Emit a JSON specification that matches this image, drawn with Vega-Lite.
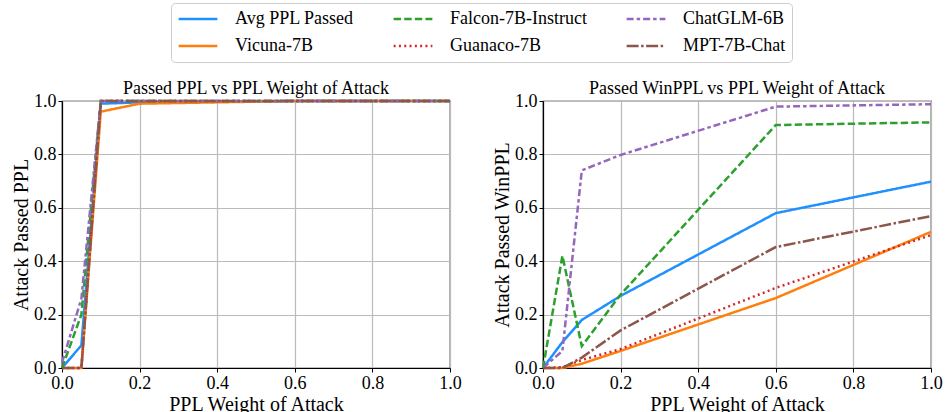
{
  "$schema": "https://vega.github.io/schema/vega-lite/v6.json",
  "padding": {"left": 10, "top": 2, "right": 0, "bottom": 0},
  "datasets": {
    "ppl": [
      {"model": "Avg PPL Passed", "x": 0, "y": 0},
      {"model": "Avg PPL Passed", "x": 0.05, "y": 0.085},
      {"model": "Avg PPL Passed", "x": 0.1, "y": 0.99},
      {"model": "Avg PPL Passed", "x": 0.2, "y": 0.995},
      {"model": "Avg PPL Passed", "x": 0.6, "y": 1.0},
      {"model": "Avg PPL Passed", "x": 1.0, "y": 1.0},
      {"model": "Vicuna-7B", "x": 0, "y": 0},
      {"model": "Vicuna-7B", "x": 0.05, "y": 0},
      {"model": "Vicuna-7B", "x": 0.1, "y": 0.96},
      {"model": "Vicuna-7B", "x": 0.2, "y": 0.99},
      {"model": "Vicuna-7B", "x": 0.6, "y": 1.0},
      {"model": "Vicuna-7B", "x": 1.0, "y": 1.0},
      {"model": "Falcon-7B-Instruct", "x": 0, "y": 0},
      {"model": "Falcon-7B-Instruct", "x": 0.05, "y": 0.2},
      {"model": "Falcon-7B-Instruct", "x": 0.1, "y": 1.0},
      {"model": "Falcon-7B-Instruct", "x": 0.2, "y": 1.0},
      {"model": "Falcon-7B-Instruct", "x": 0.6, "y": 1.0},
      {"model": "Falcon-7B-Instruct", "x": 1.0, "y": 1.0},
      {"model": "Guanaco-7B", "x": 0, "y": 0},
      {"model": "Guanaco-7B", "x": 0.05, "y": 0},
      {"model": "Guanaco-7B", "x": 0.1, "y": 1.0},
      {"model": "Guanaco-7B", "x": 0.2, "y": 1.0},
      {"model": "Guanaco-7B", "x": 0.6, "y": 1.0},
      {"model": "Guanaco-7B", "x": 1.0, "y": 1.0},
      {"model": "ChatGLM-6B", "x": 0, "y": 0.02},
      {"model": "ChatGLM-6B", "x": 0.05, "y": 0.26},
      {"model": "ChatGLM-6B", "x": 0.1, "y": 1.0},
      {"model": "ChatGLM-6B", "x": 0.2, "y": 1.0},
      {"model": "ChatGLM-6B", "x": 0.6, "y": 1.0},
      {"model": "ChatGLM-6B", "x": 1.0, "y": 1.0},
      {"model": "MPT-7B-Chat", "x": 0, "y": 0},
      {"model": "MPT-7B-Chat", "x": 0.05, "y": 0},
      {"model": "MPT-7B-Chat", "x": 0.1, "y": 1.0},
      {"model": "MPT-7B-Chat", "x": 0.2, "y": 1.0},
      {"model": "MPT-7B-Chat", "x": 0.6, "y": 1.0},
      {"model": "MPT-7B-Chat", "x": 1.0, "y": 1.0}
    ],
    "winppl": [
      {"model": "Avg PPL Passed", "x": 0, "y": 0},
      {"model": "Avg PPL Passed", "x": 0.05, "y": 0.097},
      {"model": "Avg PPL Passed", "x": 0.1, "y": 0.18},
      {"model": "Avg PPL Passed", "x": 0.2, "y": 0.27},
      {"model": "Avg PPL Passed", "x": 0.6, "y": 0.58},
      {"model": "Avg PPL Passed", "x": 1.0, "y": 0.698},
      {"model": "Vicuna-7B", "x": 0, "y": 0},
      {"model": "Vicuna-7B", "x": 0.05, "y": 0},
      {"model": "Vicuna-7B", "x": 0.1, "y": 0.016},
      {"model": "Vicuna-7B", "x": 0.2, "y": 0.064},
      {"model": "Vicuna-7B", "x": 0.6, "y": 0.262},
      {"model": "Vicuna-7B", "x": 1.0, "y": 0.51},
      {"model": "Falcon-7B-Instruct", "x": 0, "y": 0},
      {"model": "Falcon-7B-Instruct", "x": 0.05, "y": 0.42},
      {"model": "Falcon-7B-Instruct", "x": 0.1, "y": 0.082},
      {"model": "Falcon-7B-Instruct", "x": 0.2, "y": 0.275},
      {"model": "Falcon-7B-Instruct", "x": 0.6, "y": 0.91},
      {"model": "Falcon-7B-Instruct", "x": 1.0, "y": 0.92},
      {"model": "Guanaco-7B", "x": 0, "y": 0},
      {"model": "Guanaco-7B", "x": 0.05, "y": 0.003},
      {"model": "Guanaco-7B", "x": 0.1, "y": 0.03},
      {"model": "Guanaco-7B", "x": 0.2, "y": 0.071},
      {"model": "Guanaco-7B", "x": 0.6, "y": 0.30},
      {"model": "Guanaco-7B", "x": 1.0, "y": 0.498},
      {"model": "ChatGLM-6B", "x": 0, "y": 0},
      {"model": "ChatGLM-6B", "x": 0.05, "y": 0.064},
      {"model": "ChatGLM-6B", "x": 0.1, "y": 0.74},
      {"model": "ChatGLM-6B", "x": 0.2, "y": 0.798},
      {"model": "ChatGLM-6B", "x": 0.6, "y": 0.979},
      {"model": "ChatGLM-6B", "x": 1.0, "y": 0.988},
      {"model": "MPT-7B-Chat", "x": 0, "y": 0},
      {"model": "MPT-7B-Chat", "x": 0.05, "y": 0},
      {"model": "MPT-7B-Chat", "x": 0.1, "y": 0.039},
      {"model": "MPT-7B-Chat", "x": 0.2, "y": 0.141},
      {"model": "MPT-7B-Chat", "x": 0.6, "y": 0.453},
      {"model": "MPT-7B-Chat", "x": 1.0, "y": 0.569}
    ]
  },
  "config": {
    "font": "Liberation Serif, Times New Roman, DejaVu Serif, serif",
    "view": {"stroke": "black", "strokeWidth": 1.2},
    "axis": {
      "labelFont": "Liberation Serif, Times New Roman, DejaVu Serif, serif",
      "titleFont": "Liberation Serif, Times New Roman, DejaVu Serif, serif",
      "labelFontSize": 18,
      "titleFontSize": 20,
      "titleFontWeight": "normal",
      "labelColor": "black",
      "titleColor": "black",
      "gridColor": "#bbbbbb",
      "gridWidth": 1.2,
      "domainColor": "black",
      "domainWidth": 1.2,
      "tickColor": "black",
      "tickSize": 4,
      "labelPadding": 2,
      "titlePadding": 2,
      "labelFlush": false
    },
    "title": {"font": "Liberation Serif, Times New Roman, DejaVu Serif, serif", "fontSize": 18, "fontWeight": "normal", "offset": -6, "color": "black"},
    "legend": {
      "orient": "none",
      "legendX": 109,
      "legendY": -98,
      "columns": 3,
      "labelFont": "Liberation Serif, Times New Roman, DejaVu Serif, serif",
      "labelFontSize": 18,
      "labelColor": "black",
      "symbolSize": 1500,
      "symbolStrokeWidth": 2.5,
      "clipHeight": 20,
      "strokeColor": "#cccccc",
      "fillColor": "white",
      "cornerRadius": 4,
      "padding": 6,
      "labelOffset": 16,
      "columnPadding": 38,
      "rowPadding": 7
    }
  },
  "spacing": 29,
  "hconcat": [
    {
      "width": 388,
      "height": 267,
      "title": "Passed PPL vs PPL Weight of Attack",
      "data": {"name": "ppl"},
      "mark": {"type": "line", "strokeWidth": 2.5},
      "encoding": {
        "x": {"field": "x", "type": "quantitative", "scale": {"domain": [0, 1], "nice": false}, "axis": {"values": [0, 0.2, 0.4, 0.6, 0.8, 1.0], "format": ".1f", "title": "PPL Weight of Attack"}},
        "y": {"field": "y", "type": "quantitative", "scale": {"domain": [0, 1], "nice": false}, "axis": {"values": [0, 0.2, 0.4, 0.6, 0.8, 1.0], "format": ".1f", "title": "Attack Passed PPL"}},
        "color": {"field": "model", "type": "nominal", "title": null,
          "scale": {"domain": ["Avg PPL Passed", "Vicuna-7B", "Falcon-7B-Instruct", "Guanaco-7B", "ChatGLM-6B", "MPT-7B-Chat"],
                    "range": ["#1e90ff", "#ff7f0e", "#2ca02c", "#d62728", "#9467bd", "#8c564b"]}},
        "strokeDash": {"field": "model", "type": "nominal", "title": null,
          "scale": {"domain": ["Avg PPL Passed", "Vicuna-7B", "Falcon-7B-Instruct", "Guanaco-7B", "ChatGLM-6B", "MPT-7B-Chat"],
                    "range": [[1, 0], [1, 0], [7.4, 3.2], [2, 3.3], [7, 3, 3.5, 3], [12, 2.5, 2.5, 2.5]]}}
      }
    },
    {
      "width": 388,
      "height": 267,
      "title": "Passed WinPPL vs PPL Weight of Attack",
      "data": {"name": "winppl"},
      "mark": {"type": "line", "strokeWidth": 2.5},
      "encoding": {
        "x": {"field": "x", "type": "quantitative", "scale": {"domain": [0, 1], "nice": false}, "axis": {"values": [0, 0.2, 0.4, 0.6, 0.8, 1.0], "format": ".1f", "title": "PPL Weight of Attack"}},
        "y": {"field": "y", "type": "quantitative", "scale": {"domain": [0, 1], "nice": false}, "axis": {"values": [0, 0.2, 0.4, 0.6, 0.8, 1.0], "format": ".1f", "title": "Attack Passed WinPPL"}},
        "color": {"field": "model", "type": "nominal", "title": null,
          "scale": {"domain": ["Avg PPL Passed", "Vicuna-7B", "Falcon-7B-Instruct", "Guanaco-7B", "ChatGLM-6B", "MPT-7B-Chat"],
                    "range": ["#1e90ff", "#ff7f0e", "#2ca02c", "#d62728", "#9467bd", "#8c564b"]}},
        "strokeDash": {"field": "model", "type": "nominal", "title": null,
          "scale": {"domain": ["Avg PPL Passed", "Vicuna-7B", "Falcon-7B-Instruct", "Guanaco-7B", "ChatGLM-6B", "MPT-7B-Chat"],
                    "range": [[1, 0], [1, 0], [7.4, 3.2], [2, 3.3], [7, 3, 3.5, 3], [12, 2.5, 2.5, 2.5]]}}
      }
    }
  ]
}
